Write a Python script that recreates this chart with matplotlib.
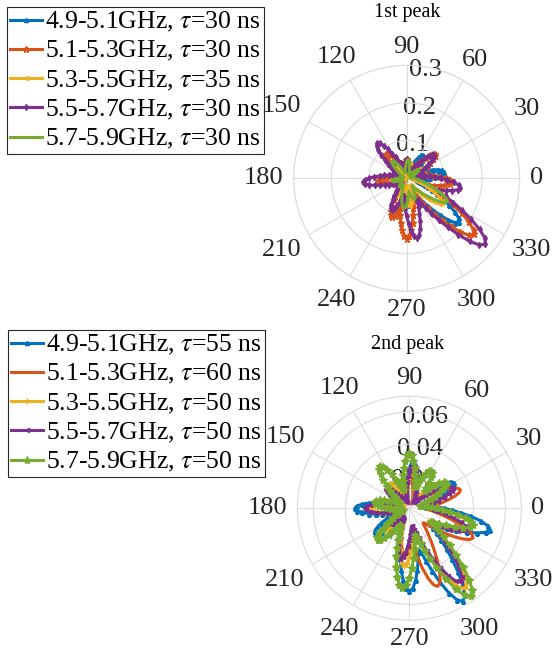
import numpy as np
import matplotlib.pyplot as plt

plt.rcParams['font.family'] = ['Liberation Serif', 'DejaVu Serif']
plt.rcParams['mathtext.fontset'] = 'stix'

# angle grid (deg) the patterns were read on, one row of 24 values = 60 deg
angles_deg = np.arange(0, 360, 2.5)

bands = ['4.9-5.1GHz', '5.1-5.3GHz', '5.3-5.5GHz', '5.5-5.7GHz', '5.7-5.9GHz']
tau_peak1 = [30, 30, 35, 30, 30]
tau_peak2 = [55, 60, 50, 50, 50]

# ---- 1st peak ----
blue1 = [
    .062, .0747, .087, .0964, .100, .0964, .087, .0747, .062, .0513, .042, .0348, .029, .0242, .022, .0261, .032, .0385, .047, .056, .065, .0723, .075, .0723,
    .065, .056, .047, .0385, .032, .0261, .022, .0182, .015, .013, .011, .0096, .008, .0074, .006, .0064, .0075, .0087, .010, .0121, .0145, .0174, .021, .0257,
    .031, .0374, .0435, .0482, .050, .0482, .0435, .0374, .031, .0257, .021, .0174, .0145, .0121, .010, .0097, .0116, .0139, .0168, .0205, .0248, .0299, .0348, .0386,
    .040, .0386, .0348, .0299, .0248, .0205, .0168, .0139, .0116, .0097, .008, .007, .006, .007, .008, .0097, .0116, .0139, .0168, .0205, .0248, .0299, .0348, .0386,
    .040, .0386, .0348, .0299, .0248, .0205, .0203, .0244, .0294, .0359, .0434, .0523, .061, .0675, .070, .0675, .061, .0523, .0434, .0359, .0294, .0313, .036, .0436,
    .052, .0626, .0756, .0923, .112, .134, .157, .174, .180, .174, .157, .134, .112, .0923, .0756, .0626, .052, .0436, .036, .0313, .029, .0348, .042, .0513]
orange1 = [
    .104, .0896, .074, .0616, .050, .0418, .035, .029, .029, .0348, .042, .0513, .062, .0747, .087, .0964, .100, .0964, .087, .0747, .062, .0513, .042, .0348,
    .029, .0242, .020, .0174, .015, .0174, .021, .0257, .031, .0374, .0435, .0482, .050, .0482, .0435, .0374, .031, .0257, .021, .0206, .0247, .0296, .0357, .0436,
    .0527, .0635, .074, .082, .085, .082, .074, .0635, .0527, .0436, .0357, .0296, .0247, .0206, .017, .0148, .015, .0182, .0218, .0261, .0315, .0385, .0465, .056,
    .065, .0723, .075, .0723, .065, .056, .0465, .0385, .0315, .0261, .0218, .0182, .015, .013, .0121, .0141, .0165, .0191, .022, .0266, .032, .0383, .046, .0564,
    .068, .0822, .0957, .106, .110, .106, .0957, .0822, .099, .1195, .139, .154, .160, .154, .139, .1195, .099, .0821, .067, .0557, .046, .0404, .046, .0561,
    .067, .0807, .097, .119, .144, .173, .202, .224, .232, .224, .202, .173, .144, .119, .097, .0807, .067, .0616, .0744, .0896, .104, .1157, .120, .1157]
yellow1 = [
    .0127, .0113, .010, .0121, .0145, .0174, .021, .0257, .031, .0374, .0435, .0482, .050, .0482, .0435, .0374, .031, .0257, .021, .0174, .0145, .0121, .010, .0097,
    .0116, .0139, .0168, .0205, .0248, .0299, .0348, .0386, .040, .0386, .0348, .0299, .0248, .0205, .0168, .0139, .0116, .0097, .008, .0097, .0116, .0139, .0168, .0205,
    .0248, .0299, .0348, .0386, .040, .0386, .0348, .0299, .0248, .0205, .0168, .0139, .0116, .0097, .008, .007, .008, .0097, .0116, .0139, .0168, .0205, .0248, .0299,
    .0348, .0386, .040, .0386, .0348, .0299, .0248, .0205, .0168, .0139, .0116, .0097, .008, .0087, .010, .0121, .0145, .0174, .021, .0257, .031, .0374, .0435, .0482,
    .050, .0482, .0435, .0374, .031, .0257, .0218, .0261, .0315, .0385, .0465, .056, .065, .0723, .075, .0723, .065, .056, .0465, .0385, .0315, .0261, .0218, .020,
    .023, .0278, .0334, .040, .0483, .059, .0713, .0859, .100, .1109, .115, .1109, .100, .0859, .0713, .059, .0483, .040, .0334, .0278, .023, .020, .0173, .0147]
purple1 = [
    .090, .0744, .061, .0505, .042, .0351, .029, .0252, .0278, .0334, .0403, .0492, .0595, .0717, .0835, .0925, .096, .0925, .0835, .0717, .0595, .0492, .0403, .0334,
    .0278, .0232, .0192, .0167, .0145, .0174, .021, .0257, .031, .0374, .0435, .0482, .050, .0482, .0435, .0374, .031, .0257, .0244, .0295, .0354, .0425, .0512, .0626,
    .0756, .0911, .106, .1176, .122, .1176, .106, .0911, .0756, .0626, .0512, .0425, .0354, .0295, .0244, .0212, .0232, .0281, .0336, .0404, .0487, .0595, .0719, .0867,
    .101, .1118, .116, .1118, .101, .0867, .0719, .0595, .0487, .0404, .0336, .0281, .0232, .0202, .0174, .0162, .0186, .0225, .027, .0324, .039, .0477, .0577, .0695,
    .0809, .0897, .093, .0897, .0809, .0695, .0577, .0477, .0467, .056, .0676, .0826, .0998, .1203, .140, .155, .161, .155, .140, .1203, .0998, .0826, .0676, .0658,
    .0789, .0947, .114, .1395, .169, .203, .237, .262, .272, .262, .237, .203, .169, .1395, .114, .0947, .090, .1083, .126, .1398, .145, .1398, .126, .1083]
green1 = [
    .0188, .016, .0138, .0122, .0106, .0097, .0116, .0139, .0168, .0205, .0248, .0299, .0348, .0386, .040, .0386, .0348, .0299, .0248, .0205, .0168, .0139, .0116, .0097,
    .010, .0121, .0145, .0174, .021, .0257, .031, .0374, .0435, .0482, .050, .0482, .0435, .0374, .031, .0257, .021, .0174, .0145, .0145, .0174, .0209, .0252, .0308,
    .0372, .0448, .0522, .0578, .060, .0578, .0522, .0448, .0372, .0308, .0252, .0209, .0174, .0145, .012, .0104, .009, .0077, .008, .0097, .0116, .0139, .0168, .0205,
    .0248, .0299, .0348, .0386, .040, .0386, .0348, .0299, .0248, .0205, .0168, .0139, .0116, .0104, .0126, .0154, .0186, .0224, .0261, .0289, .030, .0289, .0261, .0224,
    .0186, .0194, .0232, .0278, .0336, .041, .0496, .0598, .0696, .0771, .080, .0771, .0696, .0598, .0496, .041, .0372, .0448, .0522, .0578, .060, .0578, .0522, .0448,
    .0372, .0308, .0252, .0303, .0363, .0435, .0525, .0641, .0775, .0934, .109, .1205, .125, .1205, .109, .0934, .0775, .0641, .0525, .0435, .0363, .0303, .025, .0218]

# ---- 2nd peak ----
blue2 = [
    .0218, .0181, .0151, .0126, .0104, .0111, .0134, .0164, .0198, .0239, .0278, .0308, .032, .0308, .0278, .0239, .0198, .0164, .0134, .0111, .0093, .0077, .0064, .0056,
    .0058, .007, .0084, .0101, .0122, .0149, .018, .0217, .0252, .028, .029, .028, .0252, .0217, .018, .0149, .0122, .0101, .0084, .007, .0058, .007, .0084, .0103,
    .0124, .0149, .0174, .0193, .020, .0193, .0174, .0149, .0124, .0103, .0084, .007, .0058, .0059, .0068, .0082, .0099, .0118, .0143, .0174, .0211, .0254, .0296, .0328,
    .034, .0328, .0296, .0254, .0211, .0174, .0143, .0118, .0109, .0133, .0161, .0194, .0226, .0251, .026, .0251, .0226, .0194, .0161, .0133, .0109, .009, .0075, .0067,
    .0078, .009, .0104, .0126, .0151, .0181, .0218, .0267, .0322, .0388, .0452, .0501, .052, .0501, .0452, .0388, .0322, .0267, .0281, .0344, .0415, .050, .0583, .0646,
    .067, .0646, .0583, .050, .0415, .0344, .0281, .0233, .0194, .0162, .0151, .0181, .0218, .0267, .0322, .0388, .0452, .0501, .052, .0501, .0452, .0388, .0322, .0267]
orange2 = [
    .0099, .0118, .0143, .0174, .0211, .0254, .0296, .0328, .034, .0328, .0296, .0254, .0211, .0174, .0143, .0118, .0099, .0082, .0068, .0059, .0051, .0044, .0037, .0033,
    .003, .0035, .004, .0048, .0058, .007, .0084, .0103, .0124, .0149, .0174, .0193, .020, .0193, .0174, .0149, .0124, .0103, .0084, .007, .0058, .0052, .0063, .0077,
    .0093, .0112, .013, .0145, .015, .0145, .013, .0112, .0093, .0077, .0063, .0052, .0044, .0036, .003, .0036, .0044, .0052, .0063, .0077, .0093, .0112, .013, .0145,
    .015, .0145, .013, .0112, .0093, .0077, .0063, .0052, .0044, .0036, .003, .0036, .0044, .0052, .0063, .0077, .0093, .0112, .013, .0145, .015, .0145, .013, .0112,
    .0093, .0077, .0087, .0104, .0126, .0154, .0186, .0224, .0261, .0289, .030, .0289, .0261, .0224, .0218, .0267, .0322, .0388, .0452, .0501, .052, .0501, .0452, .0388,
    .0322, .0267, .0218, .0181, .0151, .0126, .0128, .0153, .0185, .0226, .0273, .0329, .0383, .0424, .044, .0424, .0383, .0329, .0273, .0226, .0185, .0153, .0128, .0106]
yellow2 = [
    .0168, .0139, .0116, .0097, .008, .007, .0078, .0094, .0113, .0139, .0167, .0202, .0235, .026, .027, .026, .0235, .0202, .0167, .0139, .0113, .0094, .0078, .0065,
    .0054, .0061, .0073, .0087, .0105, .0128, .0155, .0187, .0218, .0241, .025, .0241, .0218, .0187, .0155, .0128, .0105, .0087, .0073, .0061, .0058, .007, .0084, .0103,
    .0124, .0149, .0174, .0193, .020, .0193, .0174, .0149, .0124, .0103, .0084, .007, .0058, .0048, .005, .006, .0073, .0087, .0105, .0128, .0155, .0187, .0218, .0241,
    .025, .0241, .0218, .0187, .0155, .0128, .0105, .0087, .0073, .006, .0058, .007, .0084, .0103, .0124, .0149, .0174, .0193, .020, .0193, .0174, .0149, .0124, .0103,
    .0084, .0087, .0104, .0125, .0151, .0185, .0223, .0269, .0313, .0347, .036, .0347, .0313, .0269, .0223, .0185, .0151, .0148, .0177, .0212, .0256, .0313, .0378, .0456,
    .0531, .0588, .061, .0588, .0531, .0456, .0378, .0313, .0256, .0212, .0177, .0148, .0168, .0205, .0248, .0299, .0348, .0386, .040, .0386, .0348, .0299, .0248, .0205]
purple2 = [
    .0112, .0093, .0087, .0104, .0126, .0154, .0186, .0224, .0261, .0289, .030, .0289, .0261, .0224, .0186, .0154, .0126, .0104, .0087, .0073, .006, .0052, .0045, .0047,
    .0054, .0065, .0078, .0094, .0113, .0139, .0167, .0202, .0235, .026, .027, .026, .0235, .0202, .0167, .0139, .0113, .0094, .0078, .0065, .0054, .0047, .004, .0046,
    .0055, .0066, .008, .0097, .0118, .0142, .0165, .0183, .019, .0183, .0165, .0142, .0118, .0097, .008, .0068, .0081, .0097, .0118, .0144, .0174, .0209, .0244, .027,
    .028, .027, .0244, .0209, .0174, .0144, .0118, .0097, .0081, .0068, .0063, .0077, .0093, .0112, .013, .0145, .015, .0145, .013, .0112, .0093, .0077, .0064, .0077,
    .0093, .0111, .0134, .0164, .0198, .0239, .0278, .0308, .032, .0308, .0278, .0239, .0198, .0164, .0134, .0111, .0112, .0136, .0162, .0195, .0235, .0287, .0347, .0418,
    .0487, .054, .056, .054, .0487, .0418, .0347, .0287, .0235, .0195, .0162, .0198, .0239, .0288, .0335, .0371, .0385, .0371, .0335, .0288, .0239, .0198, .0162, .0134]
green2 = [
    .0172, .0143, .0119, .0099, .0082, .0071, .0081, .0097, .0118, .0144, .0174, .0209, .0244, .027, .028, .027, .0244, .0209, .0174, .0144, .0167, .0202, .0235, .026,
    .027, .026, .0235, .0202, .0167, .0139, .0144, .0176, .0213, .0257, .0299, .0332, .0344, .0332, .0299, .0257, .0213, .0176, .0144, .012, .0134, .0164, .0198, .0239,
    .0278, .0308, .032, .0308, .0278, .0239, .0198, .0164, .0134, .0111, .0093, .0077, .0064, .0077, .0092, .0113, .0136, .0164, .0191, .0212, .022, .0212, .0191, .0164,
    .0136, .0113, .0092, .0077, .0064, .0053, .0042, .0049, .0056, .0068, .0081, .0097, .0118, .0144, .0174, .0209, .0244, .027, .028, .027, .0244, .0209, .0174, .0144,
    .0118, .0121, .0145, .0174, .021, .0257, .031, .0374, .0435, .0482, .050, .0482, .0435, .0374, .031, .0257, .021, .0174, .0194, .0233, .0281, .0344, .0415, .050,
    .0583, .0646, .067, .0646, .0583, .050, .0415, .0344, .0281, .0233, .0194, .0162, .0172, .021, .0254, .0306, .0357, .0395, .041, .0395, .0357, .0306, .0254, .021]

colors = ['#0072BD', '#D95319', '#EDB120', '#7E2F8E', '#77AC30']
markers1 = ['^', '*', '<', 'd', None]
markers2 = ['^', None, '+', '<', '*']
msize1 = [3, 5, 3, 3, 0]
msize2 = [3, 0, 4, 3, 6]

FS = 19          # tick label size (pt)
PX = 100 / 72.   # pixels per point


def draw_pattern(ax, series, taus, markers, msizes, rmax, rticks, rlabels):
    theta = np.deg2rad(np.append(angles_deg, 360))
    for r, tau, band, c, m, ms in zip(series, taus, bands, colors, markers, msizes):
        rr = np.append(r, r[0])  # close the loop
        ax.plot(theta, rr, color=c, lw=2.2, marker=m, ms=ms, mew=1.0,
                label=band + ', $\\tau$=%d ns' % tau)
    ax.set_ylim(0, rmax)
    ax.set_yticks(rticks)
    ax.set_yticklabels([])
    ax.set_thetagrids(range(0, 360, 30), [''] * 12)
    ax.grid(color='#dcdcdc', lw=0.8)
    ax.spines['polar'].set_color('#dcdcdc')
    ax.spines['polar'].set_linewidth(0.8)

    # radius of the axes in pixels, to place labels the MATLAB way
    R = ax.get_position().width * fig.get_figwidth() * fig.dpi / 2
    # r tick labels along the 80 deg line, just inside each ring
    for t, s in zip(rticks, rlabels):
        ax.text(np.deg2rad(80), t - 3.5 / R * rmax, s, ha='center', va='center',
                fontsize=FS, color='#262626', zorder=1.5)
    # theta labels: box edge about 10 px outside the circle
    for a in range(0, 360, 30):
        c, s = np.cos(np.deg2rad(a)), np.sin(np.deg2rad(a))
        w = len(str(a)) * 0.5 * FS * PX
        off = 10 + abs(c) * w / 2 + abs(s) * 8.5
        ax.annotate(str(a), xy=(np.deg2rad(a), rmax), xytext=(c * off / PX, s * off / PX),
                    textcoords='offset points', ha='center', va='center',
                    fontsize=FS, color='#262626', annotation_clip=False)


fig = plt.figure(figsize=(5.54, 6.59), dpi=100)

ax1 = fig.add_axes([0.530, 0.558, 0.408, 0.343], projection='polar')
draw_pattern(ax1, [blue1, orange1, yellow1, purple1, green1], tau_peak1,
             markers1, msize1, 0.3, [0.1, 0.2, 0.3], ['0.1', '0.2', '0.3'])
fig.text(407 / 554, 1 - 13 / 659, '1st peak', ha='center', va='center', fontsize=14.5)

ax2 = fig.add_axes([0.5367, 0.0587, 0.4043, 0.340], projection='polar')
draw_pattern(ax2, [blue2, orange2, yellow2, purple2, green2], tau_peak2,
             markers2, msize2, 0.07, [0.02, 0.04, 0.06], ['0.02', '0.04', '0.06'])
fig.text(408 / 554, 1 - 345 / 659, '2nd peak', ha='center', va='center', fontsize=14.5)

leg_kw = dict(loc='upper left', bbox_transform=fig.transFigure, fontsize=18.5,
              handlelength=1.25, handletextpad=0.12, borderpad=0.12,
              labelspacing=0.2, borderaxespad=0, fancybox=False,
              framealpha=1, edgecolor='#262626', numpoints=1)
h, l = ax1.get_legend_handles_labels()
lg1 = fig.legend(h, l, bbox_to_anchor=(7 / 554, 1 - 7 / 659), **leg_kw)
lg1.get_frame().set_linewidth(0.8)
h, l = ax2.get_legend_handles_labels()
lg2 = fig.legend(h, l, bbox_to_anchor=(8 / 554, 1 - 330 / 659), **leg_kw)
lg2.get_frame().set_linewidth(0.8)

fig.savefig('out.png', dpi=100)
